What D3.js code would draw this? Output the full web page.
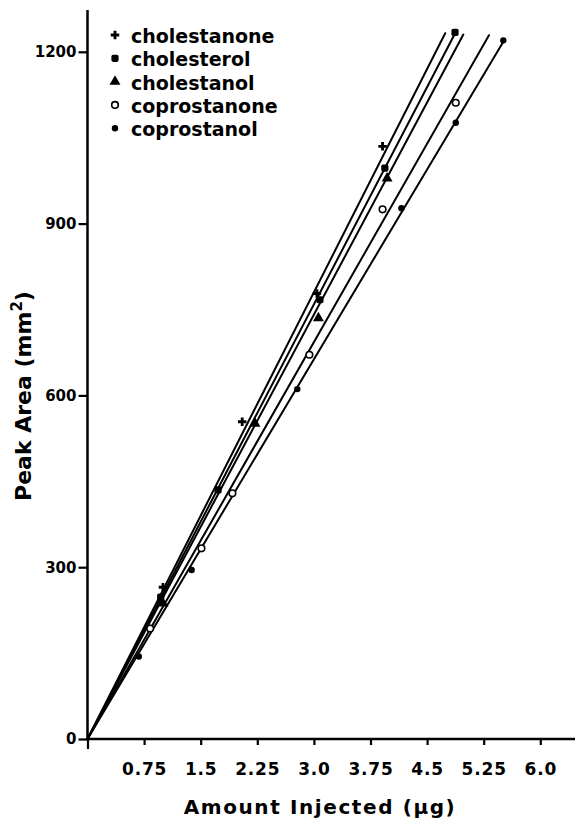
<!DOCTYPE html>
<html>
<head>
<meta charset="utf-8">
<script src="https://cdn.jsdelivr.net/npm/d3@7"></script>
<style>
  body { margin: 0; background: #fff; }
  svg { display: block; }
  text { font-family: "DejaVu Sans", sans-serif; font-weight: bold; fill: #000; }
</style>
</head>
<body>
<svg id="chart" width="575" height="820"></svg>
<script>
// Series names and their marker styles (legend order)
const seriesNames = ["cholestanone", "cholesterol", "cholestanol", "coprostanone", "coprostanol"];
const seriesSymbols = ["plus", "square", "triangle", "ring", "dot"];

// Measured points: [amount injected (µg), peak area (mm²)]
const cholestanone = [[1.0, 265], [2.05, 554], [3.04, 778], [3.91, 1035]];
const cholesterol  = [[0.97, 248], [1.73, 435], [3.08, 767], [3.94, 997], [4.87, 1234]];
const cholestanol  = [[1.0, 237], [2.22, 551], [3.06, 735], [3.97, 979]];
const coprostanone = [[0.83, 193], [1.51, 333], [1.92, 429], [2.94, 671], [3.91, 925], [4.88, 1111]];
const coprostanol  = [[0.68, 144], [1.38, 295], [2.78, 611], [4.16, 927], [4.88, 1076], [5.51, 1220]];

// Calibration lines through the origin: slope (mm² per µg) and last amount drawn
const lineSlopes = [260, 253, 247, 231, 221];
const lineEnds   = [4.74, 4.87, 4.98, 5.32, 5.51];

// Axis ticks
const xTicks      = [0.75, 1.5, 2.25, 3.0, 3.75, 4.5, 5.25, 6.0];
const xTickLabels = ["0.75", "1.5", "2.25", "3.0", "3.75", "4.5", "5.25", "6.0"];
const yTicks      = [0, 300, 600, 900, 1200];
const yTickLabels = ["0", "300", "600", "900", "1200"];

const seriesPoints = [cholestanone, cholesterol, cholestanol, coprostanone, coprostanol];

const svg = d3.select("#chart");

const x = d3.scaleLinear().domain([0, 6.46]).range([87.5, 575]);
const y = d3.scaleLinear().domain([0, 1273]).range([739, 10]);

// Marker drawing
function drawMarker(g, kind, cx, cy) {
  if (kind === "plus") {
    g.append("path")
      .attr("d", d3.symbol().type(d3.symbolCross).size(40)())
      .attr("transform", `translate(${cx},${cy})`)
      .attr("fill", "#000");
  } else if (kind === "square") {
    g.append("rect")
      .attr("x", cx - 3.6).attr("y", cy - 3.6)
      .attr("width", 7.2).attr("height", 7.2)
      .attr("rx", 1.8)
      .attr("fill", "#000");
  } else if (kind === "triangle") {
    g.append("path")
      .attr("d", d3.symbol().type(d3.symbolTriangle).size(52)())
      .attr("transform", `translate(${cx},${cy})`)
      .attr("fill", "#000");
  } else if (kind === "ring") {
    g.append("circle")
      .attr("cx", cx).attr("cy", cy).attr("r", 3.3)
      .attr("fill", "#fff").attr("stroke", "#000").attr("stroke-width", 1.6);
  } else {
    g.append("circle")
      .attr("cx", cx).attr("cy", cy).attr("r", 3.2)
      .attr("fill", "#000");
  }
}

// Calibration lines
const line = d3.line().x(d => x(d[0])).y(d => y(d[1]));
const lines = svg.append("g").attr("class", "fits");
lineSlopes.forEach((s, i) => {
  const end = lineEnds[i];
  lines.append("path")
    .attr("d", line([[0, 0], [end, s * end]]))
    .attr("fill", "none")
    .attr("stroke", "#000")
    .attr("stroke-width", 2)
    .attr("stroke-linecap", "round");
});

// Data points
const pts = svg.append("g").attr("class", "points");
seriesPoints.forEach((arr, i) => {
  arr.forEach(d => drawMarker(pts, seriesSymbols[i], x(d[0]), y(d[1])));
});

// X axis
const xAxis = d3.axisBottom(x)
  .tickValues([0].concat(xTicks))
  .tickFormat(v => { const k = xTicks.indexOf(v); return k < 0 ? "" : xTickLabels[k]; })
  .tickSize(6).tickSizeOuter(0).tickPadding(18);
const gx = svg.append("g").attr("transform", `translate(0,${y(0)})`).call(xAxis);
gx.select(".domain").attr("stroke-width", 2.5).attr("d", `M${x(0)},0H575`);
gx.selectAll(".tick line").attr("stroke-width", 2.2);
gx.selectAll(".tick").filter(v => v === 0).select("line").attr("y2", 10);
gx.selectAll(".tick text").style("font-size", "17px").style("letter-spacing", "0.8px");

// Y axis
const yAxis = d3.axisLeft(y)
  .tickValues(yTicks)
  .tickFormat((v, k) => yTickLabels[k])
  .tickSize(9).tickSizeOuter(0).tickPadding(2);
const gy = svg.append("g").attr("transform", `translate(${x(0)},0)`).call(yAxis);
gy.select(".domain").attr("stroke-width", 2.5).attr("d", `M0,${y(0)}V10`);
gy.selectAll(".tick line").attr("stroke-width", 2.2);
gy.selectAll(".tick text").style("font-size", "15px");

// Axis titles
svg.append("text")
  .attr("x", 320).attr("y", 814)
  .attr("text-anchor", "middle")
  .style("font-size", "20px")
  .style("letter-spacing", "1.6px")
  .text("Amount Injected (\u00b5g)");

const yt = svg.append("text")
  .attr("transform", "translate(31,396) rotate(-90)")
  .attr("text-anchor", "middle")
  .style("font-size", "22px");
yt.append("tspan").text("Peak Area (mm");
yt.append("tspan").attr("dy", -9).style("font-size", "15px").text("2");
yt.append("tspan").attr("dy", 9).text(")");

// Legend
const legend = svg.append("g").attr("class", "legend");
seriesNames.forEach((name, i) => {
  const cy = 35 + i * 23.3;
  drawMarker(legend, seriesSymbols[i], 115, cy);
  legend.append("text")
    .attr("x", 131).attr("y", cy + 8)
    .style("font-size", "19px")
    .text(name);
});
</script>
</body>
</html>
